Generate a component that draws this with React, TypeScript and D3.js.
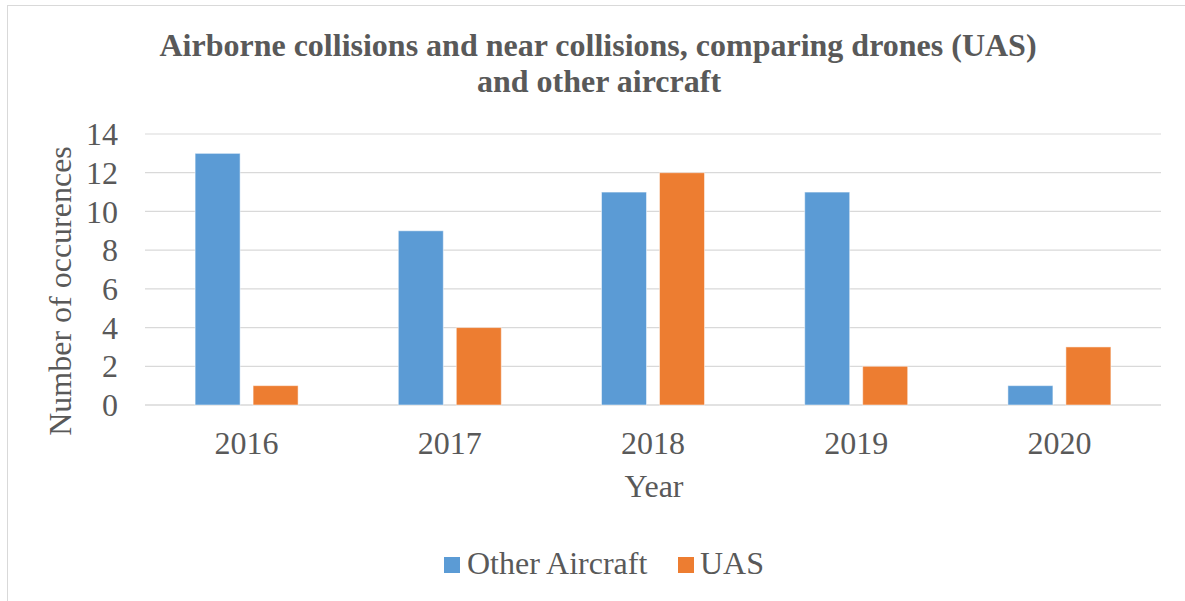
import React from "react";
import * as d3 from "d3";

const years = ["2016", "2017", "2018", "2019", "2020"];
const seriesNames = ["Other Aircraft", "UAS"];
const otherAircraft = [13, 9, 11, 11, 1];
const uas = [1, 4, 12, 2, 3];
const yTicks = [0, 2, 4, 6, 8, 10, 12, 14];
const colors = ["#5B9BD5", "#ED7D31"];

const W = 1185;
const H = 601;
const FONT = "'Liberation Serif', 'Times New Roman', serif";
const TEXT = "#595959";

export default function App() {
  const x0 = d3.scaleBand().domain(years).range([145, 1161]).padding(0);
  const x1 = d3
    .scaleBand()
    .domain(seriesNames)
    .range([0, x0.bandwidth()])
    .paddingInner(0.224)
    .paddingOuter(0.864);
  const y = d3.scaleLinear().domain([0, 14]).range([405, 134]);
  const values = [otherAircraft, uas];

  return (
    <svg
      width={W}
      height={H}
      style={{ position: "absolute", left: 0, top: 0, background: "#fff" }}
    >
      <rect x={7.5} y={5.5} width={1200} height={620} fill="#fff" stroke="#d9d9d9" strokeWidth={1} />
      <text
        x={598}
        y={56}
        textAnchor="middle"
        fontFamily={FONT}
        fontWeight="bold"
        fontSize={32}
        fill={TEXT}
      >
        Airborne collisions and near collisions, comparing drones (UAS)
      </text>
      <text
        x={599}
        y={92}
        textAnchor="middle"
        fontFamily={FONT}
        fontWeight="bold"
        fontSize={32}
        fill={TEXT}
      >
        and other aircraft
      </text>
      {yTicks.map((t) => (
        <g key={t}>
          <line x1={145} x2={1161} y1={y(t)} y2={y(t)} stroke="#d9d9d9" strokeWidth={t === 0 ? 1.5 : 1.2} />
          <text
            x={118}
            y={y(t)}
            dy="0.35em"
            textAnchor="end"
            fontFamily={FONT}
            fontSize={32}
            fill={TEXT}
          >
            {t}
          </text>
        </g>
      ))}
      {years.map((yr, i) => (
        <g key={yr} transform={`translate(${x0(yr)},0)`}>
          {seriesNames.map((s, j) => (
            <rect
              key={s}
              x={x1(s)}
              y={y(values[j][i])}
              width={x1.bandwidth()}
              height={y(0) - y(values[j][i])}
              fill={colors[j]}
              stroke="#fff"
              strokeOpacity={0.5}
              strokeWidth={1}
            />
          ))}
          <text
            x={x0.bandwidth() / 2}
            y={454}
            textAnchor="middle"
            fontFamily={FONT}
            fontSize={32}
            fill={TEXT}
          >
            {yr}
          </text>
        </g>
      ))}
      <text
        transform={`translate(71,291) rotate(-90)`}
        textAnchor="middle"
        fontFamily={FONT}
        fontSize={32}
        fill={TEXT}
      >
        Number of occurences
      </text>
      <text x={654} y={497} textAnchor="middle" fontFamily={FONT} fontSize={32} fill={TEXT}>
        Year
      </text>
      <g>
        <rect x={444} y={557} width={16} height={16} fill={colors[0]} />
        <text x={467} y={574} fontFamily={FONT} fontSize={32} fill={TEXT}>
          {seriesNames[0]}
        </text>
        <rect x={678} y={557} width={16} height={16} fill={colors[1]} />
        <text x={700} y={574} fontFamily={FONT} fontSize={32} fill={TEXT}>
          {seriesNames[1]}
        </text>
      </g>
    </svg>
  );
}
